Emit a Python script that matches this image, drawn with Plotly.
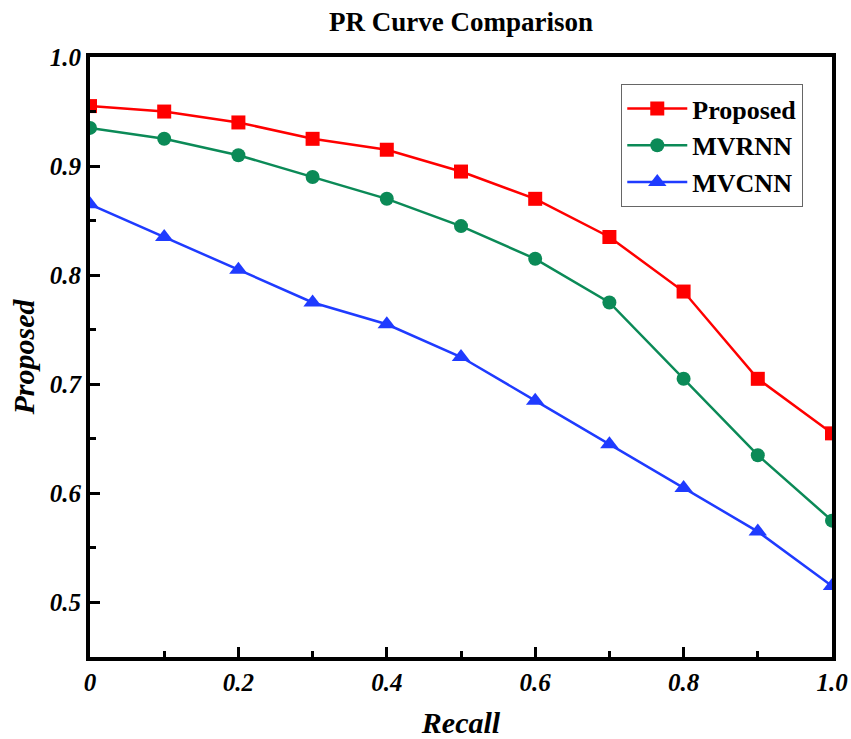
import plotly.graph_objects as go

recall = [0, 0.1, 0.2, 0.3, 0.4, 0.5, 0.6, 0.7, 0.8, 0.9, 1.0]
proposed = [0.955, 0.95, 0.94, 0.925, 0.915, 0.895, 0.87, 0.835, 0.785, 0.705, 0.655]
mvrnn = [0.935, 0.925, 0.91, 0.89, 0.87, 0.845, 0.815, 0.775, 0.705, 0.635, 0.575]
mvcnn = [0.865, 0.835, 0.805, 0.775, 0.755, 0.725, 0.685, 0.645, 0.605, 0.565, 0.515]

series_names = ["Proposed", "MVRNN", "MVCNN"]
x_tickvals = [0, 0.2, 0.4, 0.6, 0.8, 1.0]
x_ticktext = ["0", "0.2", "0.4", "0.6", "0.8", "1.0"]
y_tickvals = [0.5, 0.6, 0.7, 0.8, 0.9, 1.0]
y_ticktext = ["0.5", "0.6", "0.7", "0.8", "0.9", "1.0"]

FONT = "Liberation Serif"
colors = ["#FF0000", "#0B8A57", "#1F3BFF"]
symbols = ["square", "circle", "triangle-up"]
sizes = [14, 14, 16]

fig = go.Figure()
for name, ys, c, s, sz in zip(series_names, [proposed, mvrnn, mvcnn], colors, symbols, sizes):
    fig.add_trace(go.Scatter(
        x=recall, y=ys, name=name, mode="lines+markers",
        line=dict(color=c, width=2.5),
        marker=dict(symbol=s, size=sz, color=c),
    ))

axis_common = dict(
    showline=True, linecolor="black", linewidth=4, mirror=True,
    ticks="inside", ticklen=10, tickwidth=3, tickcolor="black",
    showgrid=False, zeroline=False, layer="above traces", automargin=False,
    tickfont=dict(family=FONT, size=25, color="black", weight="bold", style="italic"),
)

fig.update_xaxes(
    range=[0, 1.0], tickvals=x_tickvals, ticktext=x_ticktext,
    minor=dict(ticks="inside", ticklen=6, tickwidth=3, tickcolor="black", dtick=0.1, tick0=0),
    title=dict(text="Recall", font=dict(family=FONT, size=30, color="black", weight="bold", style="italic"), standoff=23),
    **axis_common,
)
fig.update_yaxes(
    range=[0.45, 1.0], tickvals=y_tickvals, ticktext=y_ticktext,
    minor=dict(ticks="inside", ticklen=6, tickwidth=3, tickcolor="black", dtick=0.05, tick0=0.45),
    title=dict(text="Proposed", font=dict(family=FONT, size=30, color="black", weight="bold", style="italic"), standoff=7),
    **axis_common,
)

fig.update_layout(
    width=851, height=739,
    margin=dict(l=90, r=19, t=57, b=82, autoexpand=False),
    paper_bgcolor="white", plot_bgcolor="white",
    title=dict(text="PR Curve Comparison", x=0.5, xref="paper", y=1 - 22 / 739, yref="container",
               xanchor="center", yanchor="middle",
               font=dict(family=FONT, size=27, color="black", weight="bold")),
    legend=dict(x=0.716, y=0.955, xanchor="left", yanchor="top",
                bordercolor="#666666", borderwidth=1, bgcolor="white",
                font=dict(family=FONT, size=26, color="black", weight="bold"),
                itemwidth=60, tracegroupgap=0),
    showlegend=True,
)

fig.write_html(
    "out.html",
    config={"displayModeBar": False},
    post_script=(
        "document.documentElement.style.margin='0';"
        "document.documentElement.style.overflow='hidden';"
        "document.body.style.margin='0';document.body.style.padding='0';"
        "document.body.style.overflow='hidden';"
    ),
)
